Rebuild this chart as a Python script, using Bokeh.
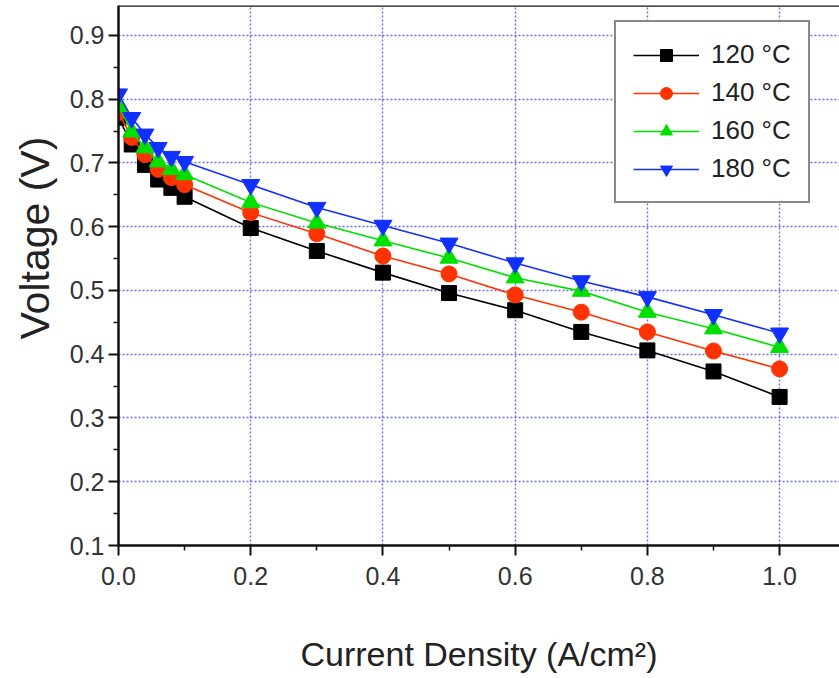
from bokeh.plotting import figure
from bokeh.models import (Range1d, FixedTicker, PrintfTickFormatter, Span, Legend, LegendItem, Title)
from bokeh.embed import file_html
from bokeh.resources import INLINE

current = [0.0, 0.02, 0.04, 0.06, 0.08, 0.1, 0.2, 0.3, 0.4, 0.5, 0.6, 0.7, 0.8, 0.9, 1.0]
v120 = [0.771, 0.729, 0.697, 0.674, 0.661, 0.647, 0.598, 0.562, 0.528, 0.496, 0.469, 0.435, 0.406, 0.373, 0.333]
v140 = [0.779, 0.740, 0.713, 0.690, 0.677, 0.666, 0.622, 0.589, 0.554, 0.526, 0.493, 0.466, 0.435, 0.405, 0.377]
v160 = [0.789, 0.749, 0.724, 0.702, 0.690, 0.682, 0.638, 0.606, 0.578, 0.551, 0.520, 0.499, 0.466, 0.440, 0.411]
v180 = [0.808, 0.771, 0.745, 0.724, 0.710, 0.702, 0.666, 0.630, 0.602, 0.574, 0.543, 0.515, 0.490, 0.462, 0.433]
labels = ["120 \u00b0C", "140 \u00b0C", "160 \u00b0C", "180 \u00b0C"]
x_ticks = [0.0, 0.2, 0.4, 0.6, 0.8, 1.0]
y_ticks = [0.1, 0.2, 0.3, 0.4, 0.5, 0.6, 0.7, 0.8, 0.9]

FONT = "Liberation Sans"
Y_END = 0.947

p = figure(width=839, height=678, output_backend="svg", toolbar_location=None,
           x_range=Range1d(0.0, 1.0906), y_range=Range1d(0.1, Y_END),
           min_border_left=117, min_border_right=0, min_border_top=5, min_border_bottom=133)
p.outline_line_color = None
p.background_fill_color = "white"

# axes
for ax in (p.xaxis[0], p.yaxis[0]):
    ax.axis_line_width = 2.5
    ax.axis_line_color = "#111111"
    ax.major_tick_line_width = 2
    ax.minor_tick_line_width = 1.5
    ax.major_tick_line_color = "#111111"
    ax.minor_tick_line_color = "#111111"
    ax.major_tick_in = 0
    ax.major_tick_out = 10
    ax.minor_tick_in = 0
    ax.minor_tick_out = 5
    ax.major_label_text_font = FONT
    ax.major_label_text_font_size = "25px"
    ax.major_label_text_color = "#333333"
    ax.axis_label_text_font = FONT
    ax.axis_label_text_font_style = "normal"
    ax.axis_label_text_font_size = "34px"
    ax.axis_label_text_color = "#222222"
    ax.formatter = PrintfTickFormatter(format="%.1f")

p.xaxis[0].ticker = FixedTicker(ticks=x_ticks, minor_ticks=[0.1, 0.3, 0.5, 0.7, 0.9])
p.yaxis[0].ticker = FixedTicker(ticks=y_ticks, minor_ticks=[0.15, 0.25, 0.35, 0.45, 0.55, 0.65, 0.75, 0.85])
p.xaxis[0].axis_label = "Current Density (A/cm\u00b2)"
p.xaxis[0].major_label_standoff = 11
p.yaxis[0].major_label_standoff = 4
p.xaxis[0].axis_label_standoff = 47

# y axis title, shifted up as in the reference
ytitle = Title(text="Voltage (V)", align="left", offset=206, standoff=18,
               text_font=FONT, text_font_size="41px", text_font_style="normal",
               text_color="#222222")
p.add_layout(ytitle, "left")

# grid
for g in (p.xgrid[0], p.ygrid[0]):
    g.grid_line_color = "#4848d8"
    g.grid_line_dash = "2 2"
    g.grid_line_width = 1.4
    g.grid_line_alpha = 0.8

# top border
p.add_layout(Span(location=Y_END, dimension="width", line_color="#111111", line_width=2.5))

series = [v120, v140, v160, v180]
colors = ["#000000", "#ff3300", "#00e000", "#1030ff"]
markers = ["square", "circle", "triangle", "inverted_triangle"]
sizes = [15, 16, 18, 18]

items = []
for vals, c, m, s, lab in zip(series, colors, markers, sizes, labels):
    r1 = p.line(current, vals, line_color=c, line_width=1.6)
    r2 = p.scatter(current, vals, marker=m, size=s, fill_color=c, line_color=c)
    items.append(LegendItem(label=lab, renderers=[r1, r2]))

legend = Legend(items=items, location=(496, 342))
legend.border_line_color = "#111111"
legend.border_line_width = 2
legend.background_fill_alpha = 1.0
legend.label_text_font = FONT
legend.label_text_font_size = "26px"
legend.label_text_color = "#222222"
legend.glyph_width = 66
legend.glyph_height = 30
legend.spacing = 7
legend.padding = 17
legend.label_standoff = 12
legend.margin = 0
p.add_layout(legend)

open("out.html", "w").write(file_html(p, INLINE))
